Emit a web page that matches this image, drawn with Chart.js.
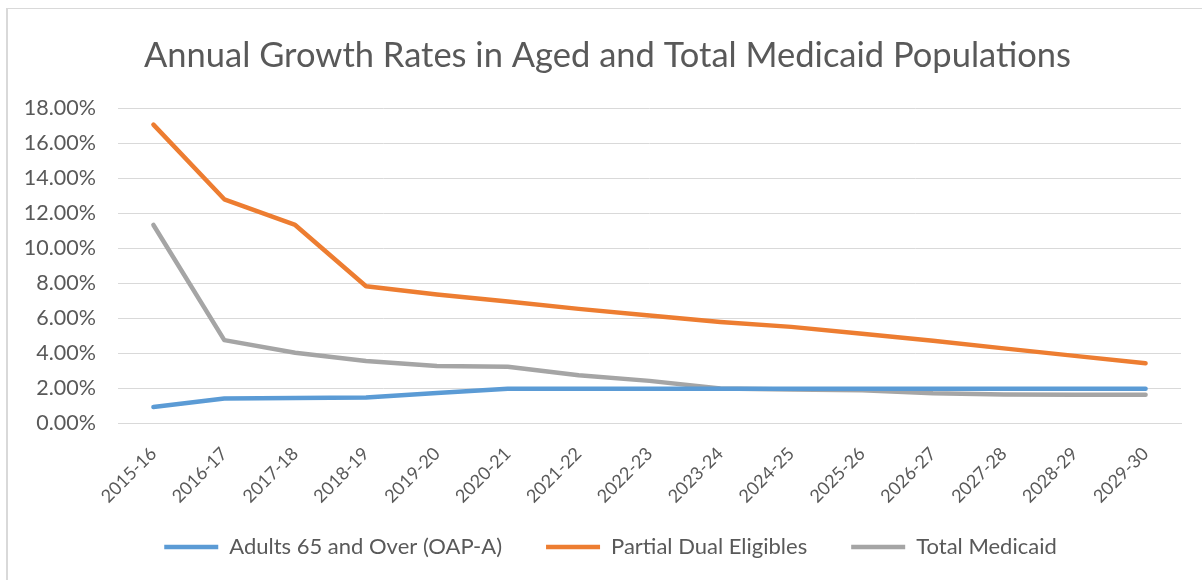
<!DOCTYPE html>
<html>
<head>
<meta charset="utf-8">
<script src="https://cdn.jsdelivr.net/npm/chart.js"></script>
<style>
  body { margin: 0; background: #fff; }
  #frame { position: absolute; left: 6px; top: 8px; width: 1300px; height: 700px;
           border-left: 2px solid #d9d9d9; border-top: 1px solid #d9d9d9; }
  #chart { position: absolute; left: 0; top: 0; }
</style>
</head>
<body>
<div id="frame"></div>
<canvas id="chart" width="1202" height="580"></canvas>
<script>
const years = ["2015-16", "2016-17", "2017-18", "2018-19", "2019-20", "2020-21", "2021-22", "2022-23",
  "2023-24", "2024-25", "2025-26", "2026-27", "2027-28", "2028-29", "2029-30"];

// percent values
const adults65 = [0.92, 1.40, 1.43, 1.46, 1.72, 1.96, 1.96, 1.96, 1.96, 1.96, 1.96, 1.96, 1.96, 1.96, 1.96];
const partialDual = [17.07, 12.80, 11.33, 7.82, 7.35, 6.95, 6.53, 6.15, 5.78, 5.50, 5.10, 4.70, 4.27, 3.84, 3.42];
const totalMedicaid = [11.33, 4.74, 4.02, 3.55, 3.26, 3.22, 2.73, 2.41, 1.98, 1.91, 1.88, 1.70, 1.63, 1.62, 1.62];

const yTicks = [0, 2, 4, 6, 8, 10, 12, 14, 16, 18];

const textColor = "#595959";
const fontFamily = "Lato, 'Open Sans', sans-serif";

function series(label, data, color) {
  return {
    label: label,
    data: data,
    borderColor: color,
    backgroundColor: color,
    borderWidth: 4.5,
    borderCapStyle: "round",
    borderJoinStyle: "round",
    pointRadius: 0,
    pointHoverRadius: 0,
    tension: 0,
    fill: false,
  };
}

// title and legend sit a bit right of the canvas centre in the original,
// and the rotated year labels run down past the x axis box (no clipping)
const nudge = {
  id: "nudge",
  afterLayout: (chart) => {
    chart.titleBlock.left += 34;
    chart.legend.left += 40;
    chart.scales.x._computeLabelArea = () => null;
  },
};

const ctx = document.getElementById("chart").getContext("2d");

new Chart(ctx, {
  type: "line",
  data: {
    labels: years,
    datasets: [
      series("Adults 65 and Over (OAP-A)", adults65, "#5b9bd5"),
      series("Partial Dual Eligibles", partialDual, "#ed7d31"),
      series("Total Medicaid", totalMedicaid, "#a5a5a5"),
    ],
  },
  plugins: [nudge],
  options: {
    responsive: false,
    animation: false,
    layout: { padding: { left: 0, right: 21, top: 0, bottom: 12 } },
    plugins: {
      title: {
        display: true,
        text: "Annual Growth Rates in Aged and Total Medicaid Populations",
        color: textColor,
        font: { family: fontFamily, size: 34.5, weight: "normal" },
        padding: { top: 35, bottom: 32 },
      },
      legend: {
        position: "bottom",
        labels: {
          color: textColor,
          font: { family: fontFamily, size: 22 },
          usePointStyle: true,
          pointStyle: "line",
          pointStyleWidth: 54,
          padding: 44,
        },
      },
      tooltip: { enabled: false },
    },
    scales: {
      x: {
        offset: true,
        grid: { display: false, drawTicks: false },
        border: { display: true, color: "#d9d9d9", width: 1 },
        ticks: {
          color: textColor,
          font: { family: fontFamily, size: 18 },
          minRotation: 45,
          maxRotation: 45,
          padding: 20,
          autoSkip: false,
        },
        afterFit: (scale) => { scale.height = 69; },
      },
      y: {
        min: 0,
        max: 18,
        afterBuildTicks: (scale) => { scale.ticks = yTicks.map((v) => ({ value: v })); },
        grid: { color: "#d9d9d9", lineWidth: 1, drawTicks: false },
        border: { display: false },
        ticks: {
          color: textColor,
          font: { family: fontFamily, size: 21.5 },
          padding: 22,
          callback: (v) => v.toFixed(2) + "%",
        },
        afterFit: (scale) => { scale.width = 118; },
      },
    },
  },
});
</script>
</body>
</html>
